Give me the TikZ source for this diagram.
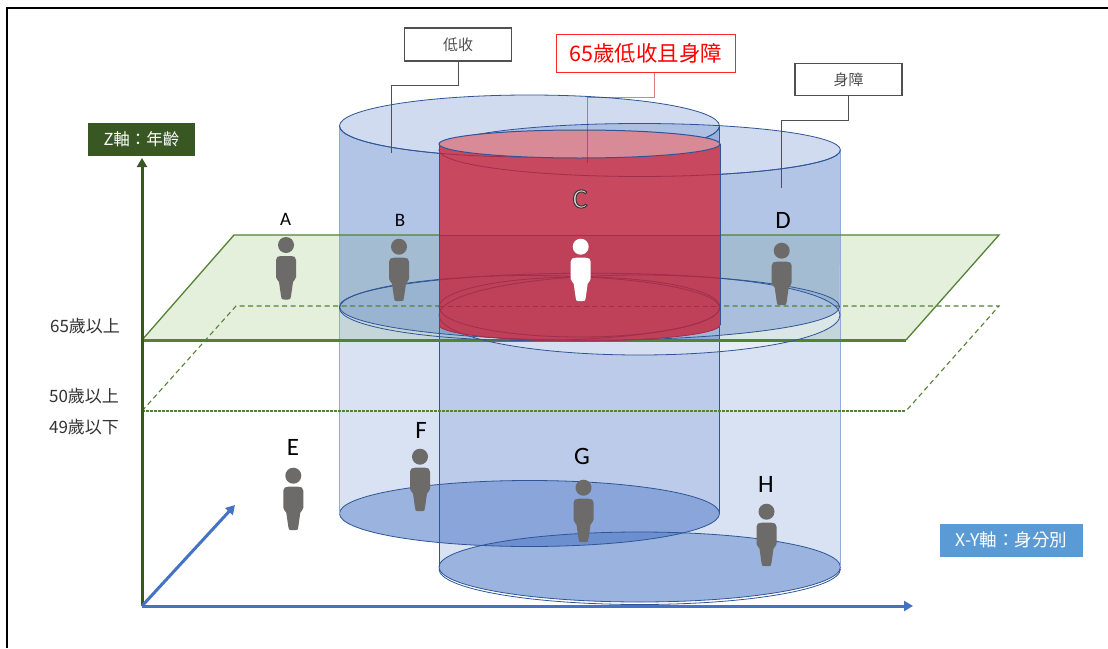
\documentclass[tikz,border=0pt]{standalone}
\usepackage{fontspec}
\setmainfont{Carlito}
\newfontfamily\cjk{Noto Sans CJK TC}
\usetikzlibrary{arrows.meta}
\definecolor{axgreen}{HTML}{385723}
\definecolor{plgreen}{HTML}{548235}
\definecolor{plfill}{HTML}{E4EFDC}
\definecolor{bluea}{HTML}{4472C4}
\definecolor{edgeb}{HTML}{2F5597}
\definecolor{edgel}{HTML}{8FAADC}
\definecolor{redbody}{HTML}{C8485F}
\definecolor{redlow}{HTML}{BE4059}
\definecolor{redcap}{HTML}{D98A97}
\definecolor{redline}{HTML}{A02F4C}
\definecolor{persongrey}{HTML}{6D6A6A}
\definecolor{xylabel}{HTML}{5B9BD5}
\definecolor{leadgrey}{HTML}{505050}
\tikzset{
  callout/.style={draw=#1,line width=1.1pt,fill=white,inner sep=0pt,anchor=center},
  axislabel/.style={inner sep=0pt,text=white,anchor=center},
  agelabel/.style={inner sep=0pt,text=black!80,font=\cjk\fontsize{17}{19}\selectfont,anchor=center},
  letter/.style={inner sep=0pt,text=black,anchor=center},
  leader/.style={draw=leadgrey,line width=0.9pt},
  bodylow/.style={fill=bluea,fill opacity=0.2},
  bodyup/.style={fill=bluea,fill opacity=0.25},
  capfill/.style={fill=bluea,fill opacity=0.25},
  basefill/.style={fill=bluea,fill opacity=0.42},
  ring/.style={draw=edgeb,line width=0.8pt},
  zarrow/.style={-{Triangle[length=9pt,width=10pt]},line width=3pt,draw=axgreen},
  barrow/.style={-{Triangle[length=9pt,width=10pt]},line width=3pt,draw=bluea},
}
\newcommand\person[3]{\begin{scope}[shift={(#1,#2)}]
  \fill[#3] (0,0) circle (8pt);
  \fill[#3] (-10,15) .. controls (-10,12) and (-8,11) .. (-5,11) -- (5,11) .. controls (8,11) and (10,12) .. (10,15)
    -- (10,32) .. controls (10,34) and (8,35) .. (7,37) -- (5,51) .. controls (5,54) and (4,54.5) .. (2,54.5)
    -- (-2,54.5) .. controls (-4,54.5) and (-5,54) .. (-5,51) -- (-7,37) .. controls (-8,35) and (-10,34) .. (-10,32) -- cycle;
\end{scope}}
\newcommand\redpath{(439,144) arc[start angle=180,end angle=360,x radius=140.5pt,y radius=14pt] -- (720,325) arc[start angle=0,end angle=-180,x radius=140.5pt,y radius=16pt] -- cycle}
\newcommand\midrings[1]{%
  \draw[#1] (589.5,306.7) ellipse[x radius=250pt,y radius=33.5pt];
  \draw[#1] (529.5,308) ellipse[x radius=190pt,y radius=32.5pt];
  \draw[#1] (639.5,315) ellipse[x radius=200.5pt,y radius=40pt];
  \draw[#1] (579.5,307) ellipse[x radius=140.5pt,y radius=30pt];
  \draw[#1] (339.5,126) arc[start angle=180,end angle=360,x radius=190pt,y radius=31pt];
  \draw[#1] (439,150) arc[start angle=180,end angle=360,x radius=200.7pt,y radius=26.5pt];
}
\begin{document}
\begin{tikzpicture}[x=1pt,y=-1pt]
\useasboundingbox (0,0) rectangle (1108,648);
\fill[white] (0,0) rectangle (1108,648);
\draw[black,line width=2.4pt] (7,648) -- (7,8) -- (1108,8);
% green plane
\fill[plfill] (142,340) -- (234,235) -- (999,235) -- (906,340) -- cycle;
% cylinder bodies
\fill[bodylow] (339.5,126) arc[start angle=180,end angle=360,x radius=190pt,y radius=31pt] -- (719.5,513.5) arc[start angle=0,end angle=-180,x radius=190pt,y radius=33pt] -- cycle;
\fill[bodylow] (439,150) arc[start angle=180,end angle=360,x radius=200.7pt,y radius=26.5pt] -- (840.4,567) arc[start angle=0,end angle=-180,x radius=200.7pt,y radius=35pt] -- cycle;
% pale lower crescent of the section of the second cylinder
\fill[white,fill opacity=0.4] (639.5,315) ellipse[x radius=200.5pt,y radius=40pt];
% upper parts
\fill[bodyup] (339.5,126) arc[start angle=180,end angle=360,x radius=190pt,y radius=31pt] -- (719.5,340) -- (589.5,340.2) arc[start angle=270,end angle=180,x radius=250pt,y radius=33.5pt] -- cycle;
\fill[bodyup] (840.4,150) arc[start angle=0,end angle=-66.57,x radius=200.7pt,y radius=26.5pt] -- (719.5,340) -- (589.5,340.2) arc[start angle=270,end angle=360,x radius=250pt,y radius=33.5pt] -- cycle;
\fill[bluea,fill opacity=0.1] (589.5,306.7) ellipse[x radius=250pt,y radius=33.5pt];
% caps
\fill[capfill] (529.5,126) ellipse[x radius=190pt,y radius=31pt];
\fill[capfill] (639.7,150) ellipse[x radius=200.7pt,y radius=26.5pt];
\draw[ring] (529.5,126) ellipse[x radius=190pt,y radius=31pt];
\draw[ring] (639.7,150) ellipse[x radius=200.7pt,y radius=26.5pt];
% bases
\fill[basefill] (529.5,513.5) ellipse[x radius=190pt,y radius=33pt];
\fill[basefill] (639.7,567) ellipse[x radius=200.7pt,y radius=35pt];
\draw[ring] (529.5,513.5) ellipse[x radius=190pt,y radius=33pt];
\draw[ring] (639.7,567) ellipse[x radius=200.7pt,y radius=35pt];
\draw[ring] (439,569) arc[start angle=180,end angle=360,x radius=200.7pt,y radius=35.5pt];
% cylinder sides
\draw[edgel,line width=1.2pt] (339.5,126) -- (339.5,513.5);
\draw[edgel,line width=1.2pt] (840.4,150) -- (840.4,567);
\draw[edgeb,line width=1pt] (439,150) -- (439,567);
\draw[edgeb,line width=1pt] (719.5,126) -- (719.5,513.5);
% plane outlines
\draw[plgreen,line width=1.3pt] (142,340) -- (234,235) -- (999,235) -- (906,340);
\draw[plgreen,line width=3pt] (142,340) -- (906,340);
\draw[plgreen,line width=1.1pt,dash pattern=on 5pt off 3.5pt] (142,411) -- (236,306) -- (999,306) -- (906,411);
\draw[plgreen,line width=2.8pt,dash pattern=on 3pt off 1pt] (142,411) -- (906,411);
\midrings{ring}
% callouts
\node[callout=leadgrey,minimum width=106.5pt,minimum height=33pt] (lowbox) at (458,44.5) {\cjk\fontsize{15}{17}\selectfont\color{leadgrey}低收};
\node[callout=leadgrey,minimum width=107pt,minimum height=32.5pt] (disbox) at (848.5,79.5) {\cjk\fontsize{15}{17}\selectfont\color{leadgrey}身障};
\coordinate (lowend) at (391.5,153);
\coordinate (disend) at (781.5,188);
\draw[leader] (lowbox.south) -- ++(0,24) -| (lowend);
\draw[leader] (disbox.south) -- ++(0,24.5) -| (disend);
% red cylinder
\fill[redbody] \redpath;
\begin{scope}
  \clip \redpath;
  \fill[redlow] (439,235) rectangle (720,345);
  \midrings{draw=redline,line width=0.8pt}
  \draw[redline,line width=0.8pt] (439,235) -- (720,235);
  \draw[redline,line width=0.7pt,dash pattern=on 5pt off 3.5pt] (439,306) -- (720,306);
\end{scope}
\fill[redcap] (579.5,144) ellipse[x radius=140.5pt,y radius=14pt];
\draw[edgeb,line width=1pt] (579.5,144) ellipse[x radius=140.5pt,y radius=14pt];
\draw[edgeb,line width=1pt] (439,144) -- (439,325);
\draw[edgeb,line width=1pt] (720,144) -- (720,325);
\draw[redline,line width=0.8pt] (439,325) arc[start angle=180,end angle=360,x radius=140.5pt,y radius=16pt];
% red callout
\node[callout=red!85!white,minimum width=179.5pt,minimum height=38.5pt] (redbox) at (646,53.5) {\cjk\fontsize{21.5}{24}\selectfont\color{red}65歲低收且身障};
\coordinate (redend) at (587.5,163);
\draw[draw=red!80!black,line width=0.9pt,draw opacity=0.5] ([xshift=8.5pt]redbox.south) -- ++(0,24) -| (redend);
% axes
\coordinate (O) at (142,606);
\coordinate (ztip) at (142,158);
\coordinate (xtip) at (913,606);
\coordinate (ytip) at (235,505);
\draw[zarrow] (O) -- (ztip);
\draw[barrow] (O) -- (xtip);
\draw[barrow] (O) -- (ytip);
% axis labels
\node[axislabel,fill=axgreen,minimum width=107pt,minimum height=33pt,font=\cjk\fontsize{16.5}{18}\selectfont] (zlabel) at (141.5,139) {Z軸：年齡};
\node[axislabel,fill=xylabel,minimum width=143pt,minimum height=33pt,font=\cjk\fontsize{17.5}{19}\selectfont] (xylab) at (1011.5,540) {X-Y軸：身分別};
\node[agelabel] (age65) at (85,326) {65歲以上};
\node[agelabel] (age50) at (84,396) {50歲以上};
\node[agelabel] (age49) at (84,427) {49歲以下};
% persons
\person{286}{245}{persongrey}
\person{399}{246.7}{persongrey}
\person{580.7}{246.7}{white}
\person{781.7}{250.7}{persongrey}
\person{293.3}{475.7}{persongrey}
\person{420}{456.7}{persongrey}
\person{583.5}{487.7}{persongrey}
\person{766.5}{511.7}{persongrey}
% letters
\node[letter,font=\fontsize{19}{21}\selectfont] (la) at (285.5,219) {A};
\node[letter,font=\fontsize{19}{21}\selectfont] (lb) at (400,220) {B};
\node[letter,font=\fontsize{28}{30}\selectfont] (lc) at (580,199) {\special{pdf:literal direct 2 Tr 1 w 0.2 G 0.88 g}C\special{pdf:literal direct 0 Tr 0 g 0 G}};
\node[letter,font=\fontsize{25}{28}\selectfont] (ld) at (783,220) {D};
\node[letter,font=\fontsize{25}{28}\selectfont] (le) at (293,447) {E};
\node[letter,font=\fontsize{25}{28}\selectfont] (lf) at (421,430) {F};
\node[letter,font=\fontsize{25}{28}\selectfont] (lg) at (582,456) {G};
\node[letter,font=\fontsize{25}{28}\selectfont] (lh) at (766,484) {H};
\end{tikzpicture}
\end{document}
